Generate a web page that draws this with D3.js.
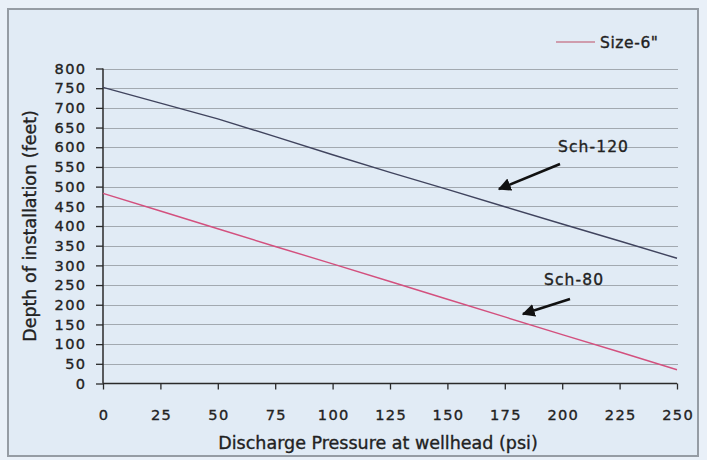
<!DOCTYPE html>
<html><head><meta charset="utf-8">
<script src="https://cdn.jsdelivr.net/npm/d3@7"></script>
<style>
html,body{margin:0;padding:0;background:#e9f0f8;}
svg{display:block;font-family:"DejaVu Sans",sans-serif;}
</style></head>
<body><svg id="c" width="707" height="460"></svg>
<script>
const pressure = [0, 25, 50, 75, 100, 125, 150, 175, 200, 225, 250];
const sch120 = [752, 712, 672, 627, 581, 536, 493, 449, 405, 362, 318];
const sch80  = [483, 438, 393, 348, 304, 259, 214, 169, 124, 80, 35];
const yTicks = [0,50,100,150,200,250,300,350,400,450,500,550,600,650,700,750,800];
const xTicks = [0,25,50,75,100,125,150,175,200,225,250];
const legendLabel = 'Size-6"';
const annotations = [
  {label:"Sch-120"},
  {label:"Sch-80"}
];

const svg = d3.select("#c");
const ink = "#222";
const heavy = sel => sel.attr("fill",ink).attr("stroke",ink).attr("stroke-width",0.35);

// frame
svg.append("rect").attr("x",8).attr("y",9).attr("width",690).attr("height",447)
  .attr("fill","#e1ebf5").attr("stroke","#959ca4").attr("stroke-width",2);

const x = d3.scaleLinear().domain([0,250]).range([103,677]);
const y = d3.scaleLinear().domain([0,800]).range([383.5,68.5]);

// gridlines
svg.append("g").selectAll("line").data(yTicks.filter(d=>d>0)).join("line")
  .attr("x1",x(0)).attr("x2",678).attr("y1",d=>Math.round(y(d))+0.5).attr("y2",d=>Math.round(y(d))+0.5)
  .attr("stroke","#a2a9b0").attr("stroke-width",1);

// axes
const ya = svg.append("g").attr("transform",`translate(${x(0)},0)`)
  .call(d3.axisLeft(y).tickValues(yTicks).tickSize(7).tickPadding(11).tickFormat(d3.format("d")));
const xa = svg.append("g").attr("transform",`translate(0,${y(0)})`)
  .call(d3.axisBottom(x).tickValues(xTicks).tickSize(6).tickPadding(20).tickFormat(d3.format("d")));
[ya,xa].forEach(g=>{
  g.select(".domain").attr("stroke","#2a2a2a").attr("stroke-width",1.5);
  g.selectAll(".tick line").attr("stroke","#2a2a2a").attr("stroke-width",1.3);
  g.selectAll("text").attr("font-size",14.6).attr("font-family","DejaVu Sans, sans-serif")
    .style("letter-spacing","1.3px").call(heavy);
});
ya.selectAll(".tick text").attr("dx","1.3px");
ya.select(".domain").attr("d",`M-0,${y(800)}V${y(0)}`);
xa.select(".domain").attr("d",`M${x(0)},0H${x(250)}`);
xa.selectAll(".tick text").attr("dx","0.6px");

// lines
const line = d3.line().x((d,i)=>x(pressure[i])).y(d=>y(d));
svg.append("path").datum(sch120).attr("d",line).attr("fill","none")
  .attr("stroke","#40445e").attr("stroke-width",1.4);
svg.append("path").datum(sch80).attr("d",line).attr("fill","none")
  .attr("stroke","#d3507e").attr("stroke-width",1.4);

// legend
svg.append("line").attr("x1",556).attr("x2",595).attr("y1",42).attr("y2",42)
  .attr("stroke","#c98295").attr("stroke-width",1.4);
svg.append("text").attr("x",600).attr("y",47.5).text(legendLabel)
  .attr("font-size",15.5).style("letter-spacing","0.6px").call(heavy);

// annotations
svg.append("defs").append("marker").attr("id","ah").attr("viewBox","0 0 10 10")
  .attr("refX",9).attr("refY",5).attr("markerWidth",5).attr("markerHeight",5)
  .attr("orient","auto").append("path").attr("d","M0,0L10,5L0,10z").attr("fill","#111");
svg.append("text").attr("x",558).attr("y",152).text(annotations[0].label)
  .attr("font-size",15.5).style("letter-spacing","1.1px").call(heavy);
svg.append("line").attr("x1",560).attr("y1",164).attr("x2",499).attr("y2",189)
  .attr("stroke","#111").attr("stroke-width",2.6).attr("marker-end","url(#ah)");
svg.append("text").attr("x",544).attr("y",284.5).text(annotations[1].label)
  .attr("font-size",15.5).style("letter-spacing","1.1px").call(heavy);
svg.append("line").attr("x1",570).attr("y1",299).attr("x2",523).attr("y2",314)
  .attr("stroke","#111").attr("stroke-width",2.6).attr("marker-end","url(#ah)");

// axis titles
svg.append("text").attr("x",378).attr("y",449).attr("text-anchor","middle")
  .text("Discharge Pressure at wellhead (psi)").attr("font-size",17.5).call(heavy);
svg.append("text").attr("transform",`translate(36,226) rotate(-90)`).attr("text-anchor","middle")
  .text("Depth of installation (feet)").attr("font-size",17.5).call(heavy);
</script></body></html>
